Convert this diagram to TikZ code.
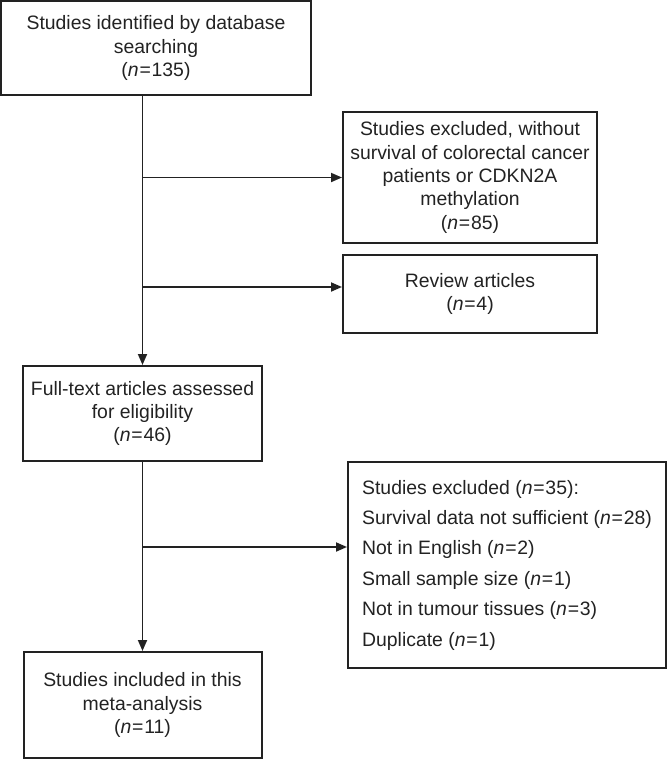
\documentclass[tikz,border=0pt]{standalone}
\usepackage{fontspec}
\setmainfont{Liberation Sans}
\usetikzlibrary{arrows.meta}
\definecolor{ink}{HTML}{222222}
\newcommand{\nn}[1]{\textit{n}\kern0.8pt=\kern0.8pt#1}
\tikzset{
  flowbox/.style={draw=ink, line width=2pt, rectangle, inner sep=0pt, align=center,
    text=ink, font=\fontsize{19.4}{23.3}\selectfont},
  listbox/.style={flowbox, align=left, font=\fontsize{19.4}{30.4}\selectfont},
  arr/.style={draw=ink, line width=1.8pt, -{Triangle[length=11pt,width=9pt]}},
}
\begin{document}
\begin{tikzpicture}[x=1pt,y=-1pt]
\useasboundingbox (0,0) rectangle (667,760);
\node[flowbox, minimum width=310pt, minimum height=94pt] (b1) at (156,48)
  {Studies identified by database\\searching\\(\nn{135})};
\node[flowbox, minimum width=254pt, minimum height=131pt] (b2) at (470,177.5)
  {Studies excluded, without\\survival of colorectal cancer\\patients or CDKN2A\\methylation\\(\nn{85})};
\node[flowbox, minimum width=254pt, minimum height=78pt] (b3) at (470,294)
  {Review articles\\(\nn{4})};
\node[flowbox, minimum width=239pt, minimum height=95pt] (b4) at (142.5,413.5)
  {Full-text articles assessed\\for eligibility\\(\nn{46})};
\node[listbox, minimum width=318pt, minimum height=206pt] (b5) at (507,565)
  {Studies excluded (\nn{35}):\\Survival data not sufficient (\nn{28})\\Not in English (\nn{2})\\Small sample size (\nn{1})\\Not in tumour tissues (\nn{3})\\Duplicate (\nn{1})};
\node[flowbox, minimum width=238pt, minimum height=106pt] (b6) at (142.5,705)
  {Studies included in this\\meta-analysis\\(\nn{11})};
\coordinate (j1) at (142.5,177.5);
\coordinate (j2) at (142.5,287);
\coordinate (j3) at (142.5,547);
\draw[arr] (b1.south -| b4.north) -- (b4.north);
\draw[arr] (j1) -- (b2.west);
\draw[arr] (j2) -- (j2 -| b3.west);
\draw[arr] (b4.south) -- (b6.north);
\draw[arr] (j3) -- (j3 -| b5.west);
\end{tikzpicture}
\end{document}
